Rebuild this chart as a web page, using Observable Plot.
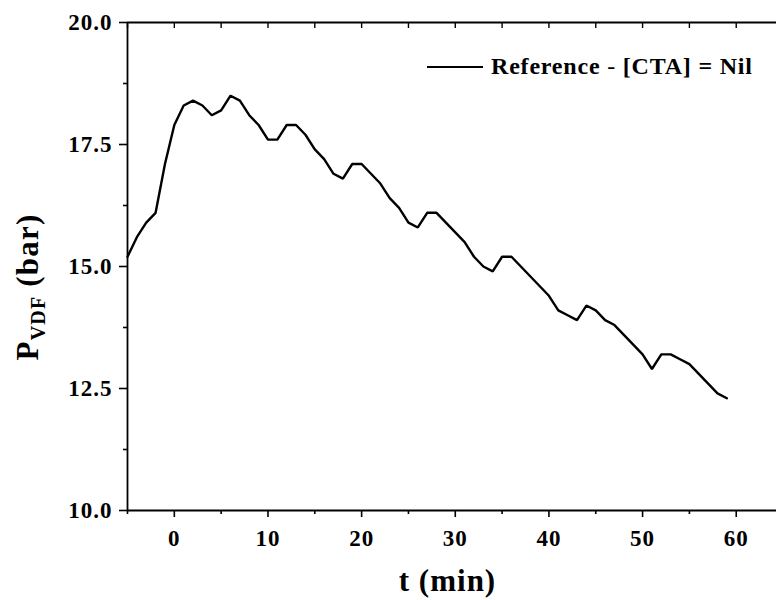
<!DOCTYPE html>
<html>
<head>
<meta charset="utf-8">
<script src="https://cdn.jsdelivr.net/npm/d3@7"></script>
<script src="https://cdn.jsdelivr.net/npm/@observablehq/plot@0.6"></script>
<style>
  body { margin: 0; background: #fff; }
  #wrap { position: relative; width: 776px; height: 600px; }
  #wrap svg text, #wrap svg tspan { font-family: "Liberation Serif", serif !important; font-weight: bold; }
  #wrap svg g[aria-label$="axis tick label"] text { letter-spacing: 1px; }
  #legend { position: absolute; left: 427px; top: 53px; display: flex; align-items: center; font-family: "Liberation Serif", serif !important; font-weight: bold; font-size: 24px; letter-spacing: 0.8px; color: #000; white-space: nowrap; }
  #legend .swatch { width: 56px; height: 0; border-top: 2.5px solid #000; margin-right: 8px; }
  #legend .dash { font-weight: normal; }
</style>
</head>
<body>
<div id="wrap"></div>
<script>
// Data
const seriesName = "Reference";
const legendRest = "[CTA] = Nil";
const t = [-5,-4,-3,-2,-1,0,1,2,3,4,5,6,7,8,9,10,11,12,13,14,15,16,17,18,19,20,21,22,23,24,25,26,27,28,29,30,31,32,33,34,35,36,37,38,39,40,41,42,43,44,45,46,47,48,49,50,51,52,53,54,55,56,57,58,59];
const pVDF = [15.2,15.6,15.9,16.1,17.1,17.9,18.3,18.4,18.3,18.1,18.2,18.5,18.4,18.1,17.9,17.6,17.6,17.9,17.9,17.7,17.4,17.2,16.9,16.8,17.1,17.1,16.9,16.7,16.4,16.2,15.9,15.8,16.1,16.1,15.9,15.7,15.5,15.2,15.0,14.9,15.2,15.2,15.0,14.8,14.6,14.4,14.1,14.0,13.9,14.2,14.1,13.9,13.8,13.6,13.4,13.2,12.9,13.2,13.2,13.1,13.0,12.8,12.6,12.4,12.3];
const xMajorTicks = [0,10,20,30,40,50,60];
const xMinorTicks = [-5,5,15,25,35,45,55];
const yMajorTicks = [10,12.5,15,17.5,20];
const yMinorTicks = [11.25,13.75,16.25,18.75];
const xDomain = [-5, 64.3];
const yDomain = [10, 20];

const data = t.map((d, i) => ({t: d, p: pVDF[i]}));

const W = 776, H = 600;
const chart = Plot.plot({
  width: W,
  height: H,
  marginLeft: 127,
  marginRight: 0,
  marginTop: 22,
  marginBottom: 90,
  style: {fontFamily: "Liberation Serif, serif", fontWeight: "bold", fontSize: "23px", color: "#000", background: "#fff", overflow: "visible"},
  x: {domain: xDomain},
  y: {domain: yDomain},
  marks: [
    // bottom axis
    Plot.axisX(xMajorTicks, {anchor: "bottom", tickSize: 7, tickPadding: 12, strokeWidth: 1.6, label: null, fontSize: 23}),
    Plot.axisX(xMinorTicks, {anchor: "bottom", tickSize: 4, strokeWidth: 1.6, text: null, label: null}),
    // top axis (inward ticks)
    Plot.axisX(xMajorTicks.concat(xMinorTicks), {anchor: "top", tickSize: -5, strokeWidth: 1.4, text: null, label: null}),
    // left axis
    Plot.axisY(yMajorTicks, {anchor: "left", tickSize: 8, tickPadding: 7, strokeWidth: 1.6, tickFormat: d3.format(".1f"), label: null, fontSize: 23}),
    Plot.axisY(yMinorTicks, {anchor: "left", tickSize: 4, strokeWidth: 1.6, text: null, label: null}),
    // frame lines
    Plot.ruleY([yDomain[0], yDomain[1]], {stroke: "#000", strokeWidth: 1.8}),
    Plot.ruleX([xDomain[0]], {stroke: "#000", strokeWidth: 1.8}),
    // data line
    Plot.line(data, {x: "t", y: "p", stroke: "#000", strokeWidth: 2.4, strokeLinejoin: "miter"})
  ]
});

const wrap = document.getElementById("wrap");
wrap.appendChild(chart);

// axis titles
const svg = d3.select(chart);
svg.append("text")
  .attr("x", (127 + W) / 2 - 4)
  .attr("y", 591)
  .attr("text-anchor", "middle")
  .style("font-size", "31px")
  .style("letter-spacing", "1px")
  .attr("fill", "#000")
  .text("t (min)");

const yl = svg.append("text")
  .attr("transform", "translate(38,287) rotate(-90)")
  .attr("text-anchor", "middle")
  .style("font-size", "31px")
  .style("letter-spacing", "1.2px")
  .attr("fill", "#000");
yl.append("tspan").text("P");
yl.append("tspan").attr("dy", "7").style("font-size", "20px").text("VDF");
yl.append("tspan").attr("dy", "-7").text(" (bar)");

// legend
const lg = document.createElement("div");
lg.id = "legend";
lg.innerHTML = `<span class="swatch"></span><span>${seriesName}</span><span class="dash">&nbsp;-&nbsp;</span><span>${legendRest}</span>`;
wrap.appendChild(lg);
</script>
</body>
</html>
